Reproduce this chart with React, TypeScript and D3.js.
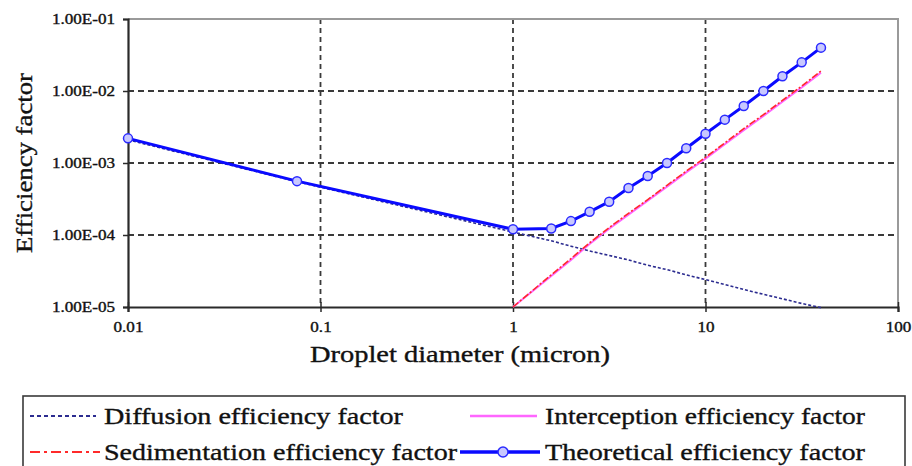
import { useEffect, useRef } from 'react';
import { select, scaleLog, axisLeft, axisBottom, line } from 'd3';

// droplet diameters (micron) where the curves were sampled
const diameters = [0.01, 0.0755, 1, 1.58, 2, 2.5, 3.16, 3.98, 5.01, 6.31, 7.94, 10, 12.6, 15.8, 20, 25.1, 31.6, 39.8];

const diffusion = [2.1e-3, 5.5e-4, 1.1e-4, 8.3e-5, 7.0e-5, 6.0e-5, 5.2e-5, 4.5e-5, 3.8e-5, 3.3e-5, 2.8e-5, 2.4e-5, 2.05e-5, 1.75e-5, 1.5e-5, 1.3e-5, 1.12e-5, 9.8e-6];

// only defined from 1 micron up
const largeDiameters = [1, 1.58, 2, 2.5, 3.16, 3.98, 5.01, 6.31, 7.94, 10, 12.6, 15.8, 20, 25.1, 31.6, 39.8];
const sedimentation = [1.0e-5, 2.8e-5, 4.7e-5, 7.8e-5, 1.27e-4, 2.0e-4, 3.1e-4, 4.9e-4, 7.7e-4, 1.2e-3, 1.9e-3, 3.0e-3, 4.7e-3, 7.4e-3, 1.17e-2, 1.9e-2];
const interception = [1.0e-5, 2.7e-5, 4.5e-5, 7.5e-5, 1.22e-4, 1.92e-4, 3.0e-4, 4.7e-4, 7.4e-4, 1.15e-3, 1.82e-3, 2.85e-3, 4.5e-3, 7.1e-3, 1.12e-2, 1.8e-2];

const theoretical = [2.2e-3, 5.6e-4, 1.2e-4, 1.23e-4, 1.56e-4, 2.1e-4, 2.9e-4, 4.5e-4, 6.6e-4, 1.0e-3, 1.6e-3, 2.55e-3, 4.0e-3, 6.2e-3, 1.0e-2, 1.6e-2, 2.5e-2, 4.0e-2];

const yTicks = [1e-5, 1e-4, 1e-3, 1e-2, 1e-1];
const yTickLabels = ['1.00E-05', '1.00E-04', '1.00E-03', '1.00E-02', '1.00E-01'];
const xTicks = [0.01, 0.1, 1, 10, 100];
const xTickLabels = ['0.01', '0.1', '1', '10', '100'];

const legendLabels = ['Diffusion efficiency factor', 'Interception efficiency factor', 'Sedimentation efficiency factor', 'Theoretical efficiency factor'];

const FONT = "'Liberation Serif', 'Times New Roman', serif";
const STRETCH = 1.22; // the original picture is a bit wider than tall

const App = () => {
    const svgRef = useRef(null);
    const width = 912;
    const height = 466;

    useEffect(() => {
        const margin = { top: 19, right: 14, bottom: 159, left: 128 };
        const plotWidth = width - margin.left - margin.right;
        const plotHeight = height - margin.top - margin.bottom;

        const root = select(svgRef.current);
        root.selectAll('*').remove();
        root.attr('width', width).attr('height', height);

        const svg = root.append('g').attr('transform', `translate(${margin.left},${margin.top})`);

        const xScale = scaleLog().domain([0.01, 100]).range([0, plotWidth]);
        const yScale = scaleLog().domain([1e-5, 1e-1]).range([plotHeight, 0]);

        // dashed grid
        svg.selectAll('.hgrid')
            .data(yTicks.slice(1, -1))
            .enter().append('line')
            .attr('x1', 0).attr('x2', plotWidth)
            .attr('y1', d => yScale(d)).attr('y2', d => yScale(d))
            .attr('stroke', '#3a3a3a').attr('stroke-width', 1.8).attr('stroke-dasharray', '6,4');
        svg.selectAll('.vgrid')
            .data(xTicks.slice(1, -1))
            .enter().append('line')
            .attr('y1', 0).attr('y2', plotHeight)
            .attr('x1', d => xScale(d)).attr('x2', d => xScale(d))
            .attr('stroke', '#3a3a3a').attr('stroke-width', 1.8).attr('stroke-dasharray', '5,4');

        // top and right border
        svg.append('path')
            .attr('d', `M0,0H${plotWidth}V${plotHeight}`)
            .attr('fill', 'none').attr('stroke', '#9a9a9a').attr('stroke-width', 2);

        // axes
        const yAxis = axisLeft(yScale).tickValues(yTicks).tickFormat((d, i) => yTickLabels[i]).tickSize(5).tickPadding(8);
        const gy = svg.append('g').call(yAxis).attr('font-family', FONT);
        gy.select('.domain').attr('stroke', '#2a2a2a').attr('stroke-width', 2.2);
        gy.selectAll('.tick line').attr('stroke', '#2a2a2a').attr('stroke-width', 1.5);
        gy.selectAll('.tick text').attr('class', 'stretch').attr('font-family', FONT).attr('font-size', 14).attr('fill', '#111');

        const xAxis = axisBottom(xScale).tickValues(xTicks).tickFormat((d, i) => xTickLabels[i]).tickSize(5).tickPadding(10);
        const gx = svg.append('g').attr('transform', `translate(0,${plotHeight})`).call(xAxis).attr('font-family', FONT);
        gx.select('.domain').attr('stroke', '#2a2a2a').attr('stroke-width', 2.2);
        gx.selectAll('.tick line').attr('stroke', '#2a2a2a').attr('stroke-width', 1.5).attr('y1', -5);
        gx.selectAll('.tick text').attr('class', 'stretch').attr('font-family', FONT).attr('font-size', 14).attr('fill', '#111');

        // axis titles
        svg.append('text')
            .attr('x', 332).attr('y', plotHeight + 55)
            .attr('text-anchor', 'middle')
            .attr('textLength', 300).attr('lengthAdjust', 'spacingAndGlyphs')
            .attr('font-family', FONT).attr('font-size', 23).attr('fill', '#111')
            .text('Droplet diameter (micron)');

        svg.append('text')
            .attr('transform', 'rotate(-90)')
            .attr('x', -(163 - margin.top)).attr('y', -margin.left + 32)
            .attr('text-anchor', 'middle')
            .attr('textLength', 180).attr('lengthAdjust', 'spacingAndGlyphs')
            .attr('font-family', FONT).attr('font-size', 24).attr('fill', '#111')
            .text('Efficiency factor');

        const path = line().x(d => xScale(d[0])).y(d => yScale(d[1]));
        const zip = (xs, ys) => xs.map((x, i) => [x, ys[i]]);

        svg.append('path')
            .attr('d', path(zip(diameters, diffusion)))
            .attr('fill', 'none').attr('stroke', '#2c2c90').attr('stroke-width', 1.6).attr('stroke-dasharray', '3,2');

        svg.append('path')
            .attr('d', path(zip(largeDiameters, interception)))
            .attr('fill', 'none').attr('stroke', '#ff66ff').attr('stroke-width', 2);

        svg.append('path')
            .attr('d', path(zip(largeDiameters, sedimentation)))
            .attr('fill', 'none').attr('stroke', '#ff2a2a').attr('stroke-width', 1.6).attr('stroke-dasharray', '7,2,2,2');

        svg.append('path')
            .attr('d', path(zip(diameters, theoretical)))
            .attr('fill', 'none').attr('stroke', '#0a0aff').attr('stroke-width', 3);

        svg.selectAll('.dot-theory')
            .data(zip(diameters, theoretical))
            .enter().append('circle')
            .attr('cx', d => xScale(d[0])).attr('cy', d => yScale(d[1]))
            .attr('r', 4.5)
            .attr('fill', '#c8c8ff').attr('stroke', '#2a2aff').attr('stroke-width', 1.5);

        // legend
        const legend = root.append('g');
        legend.append('rect')
            .attr('x', 23).attr('y', 396).attr('width', 882).attr('height', 90)
            .attr('fill', 'none').attr('stroke', '#3a3a3a').attr('stroke-width', 1.6);

        const rows = [
            { x1: 30, x2: 96, tx: 104, y: 416, len: 299, stroke: '#2c2c90', width: 2, dash: '4,3' },
            { x1: 470, x2: 537, tx: 545, y: 416, len: 320, stroke: '#ff66ff', width: 2.5, dash: null },
            { x1: 30, x2: 100, tx: 104, y: 452, len: 353, stroke: '#ff2a2a', width: 2, dash: '10,4,3,4' },
            { x1: 460, x2: 540, tx: 545, y: 452, len: 320, stroke: '#0a0aff', width: 3.5, dash: null },
        ];
        rows.forEach((r, i) => {
            legend.append('line')
                .attr('x1', r.x1).attr('x2', r.x2).attr('y1', r.y).attr('y2', r.y)
                .attr('stroke', r.stroke).attr('stroke-width', r.width)
                .attr('stroke-dasharray', r.dash);
            if (i === 3) {
                legend.append('circle').attr('cx', 503).attr('cy', r.y).attr('r', 5)
                    .attr('fill', '#c8c8ff').attr('stroke', '#2a2aff').attr('stroke-width', 1.5);
            }
            legend.append('text')
                .attr('x', r.tx).attr('y', r.y).attr('dy', '0.35em')
                .attr('textLength', r.len).attr('lengthAdjust', 'spacingAndGlyphs')
                .attr('font-family', FONT).attr('font-size', 24).attr('fill', '#111')
                .text(legendLabels[i]);
        });

        // widen the tick labels a little to match the stretched original
        root.selectAll('text.stretch').each(function () {
            const len = this.getComputedTextLength();
            select(this).attr('textLength', len * STRETCH).attr('lengthAdjust', 'spacingAndGlyphs');
        });

        // the original lettering is heavy, thicken it slightly
        root.selectAll('text').attr('stroke', '#111').attr('stroke-width', 0.35);
    }, []);

    return (
        <svg ref={svgRef} style={{ position: 'absolute', left: 0, top: 0, background: '#fff' }}></svg>
    );
};

export default App;
